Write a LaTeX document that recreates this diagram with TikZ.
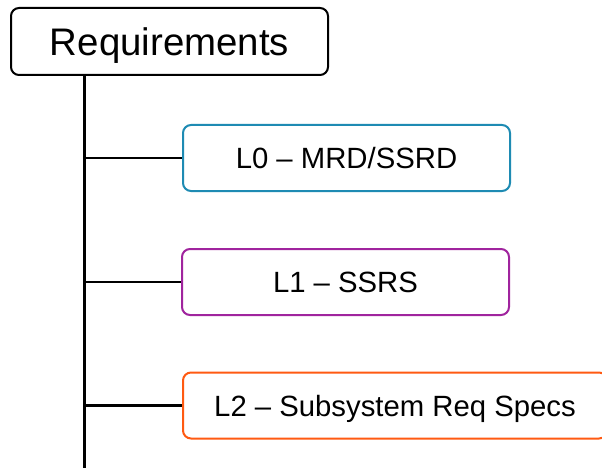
\documentclass[tikz,border=0pt]{standalone}
\usepackage{fontspec}
\setmainfont{Liberation Sans}
\definecolor{lzero}{HTML}{1E8BB3}
\definecolor{lone}{HTML}{A0249E}
\definecolor{ltwo}{HTML}{FF5A12}
\tikzset{
  box/.style={draw, line width=2pt, rounded corners=8pt, fill=white,
    inner sep=0pt, text depth=0pt, align=center},
  rootbox/.style={box, draw=black, minimum width=317pt, minimum height=67pt,
    font=\fontsize{38.4}{42}\selectfont, text height=27.5pt},
  levelbox/.style={box, minimum height=66pt,
    font=\fontsize{29.3}{32}\selectfont, text height=21pt},
  link/.style={draw=black, line width=2.4pt}
}
\begin{document}
\begin{tikzpicture}[x=1pt,y=-1pt]
  \useasboundingbox (0,0) rectangle (602,468);
  \clip (0,0) rectangle (602,468);
  \fill[white] (0,0) rectangle (602,468);

  % root and trunk
  \node[rootbox] (req) at (169.5,41.5) {Requirements};
  \coordinate (trunk) at (84.5,75);
  \coordinate (trunkend) at (84.5,470);

  % requirement levels
  \node[levelbox, draw=lzero, minimum width=327pt] (l0) at (346.5,158) {L0 – MRD/SSRD};
  \node[levelbox, draw=lone, minimum width=327pt] (l1) at (345.5,282) {L1 – SSRS};
  \node[levelbox, draw=ltwo, minimum width=424pt] (l2) at (395,405.5) {L2 – Subsystem Req Specs};

  % connectors
  \draw[link] (trunk) -- (trunkend);
  \draw[link] (l0.west -| trunk) -- (l0.west);
  \draw[link] (l1.west -| trunk) -- (l1.west);
  \draw[link] (l2.west -| trunk) -- (l2.west);
\end{tikzpicture}
\end{document}
